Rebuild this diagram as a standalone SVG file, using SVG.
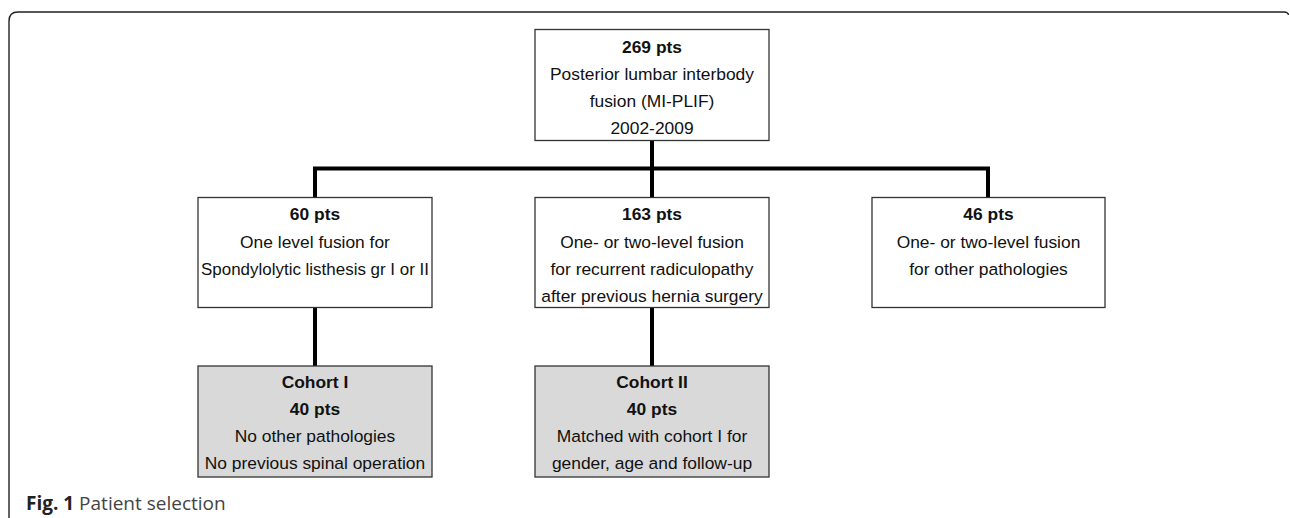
<svg xmlns="http://www.w3.org/2000/svg" width="1290" height="518" viewBox="0 0 1290 518">
<style>
.box{fill:#fff;stroke:#333;stroke-width:1.3}
.cohort{fill:#d9d9d9;stroke:#333;stroke-width:1.3}
.t{font-family:"Liberation Sans",Arial,sans-serif;font-size:17.4px;fill:#111;text-anchor:middle}
.b{font-weight:bold}
.conn{fill:none;stroke:#000;stroke-width:4}
.frame{fill:none;stroke:#222;stroke-width:1.4}
.cap{font-family:"Open Sans",sans-serif;font-size:19px}
</style>
<rect x="0" y="0" width="1290" height="518" fill="#fff"/>
<path class="frame" d="M9 518 V21 Q9 12 18 12 H1284 Q1288 12 1288.5 15"/>
<g id="connectors">
<path class="conn" d="M652 141 V168.5"/>
<path class="conn" d="M315 197.5 V168.5 H988 V197.5"/>
<path class="conn" d="M652 168.5 V197.5"/>
<path class="conn" d="M315 307.5 V366"/>
<path class="conn" d="M652 307.5 V366"/>
</g>
<g id="n269">
<rect class="box" x="535" y="29.5" width="234" height="111"/>
<text class="t b" x="652" y="53">269 pts</text>
<text class="t" x="652" y="80">Posterior lumbar interbody</text>
<text class="t" x="652" y="107">fusion (MI-PLIF)</text>
<text class="t" x="652" y="134">2002-2009</text>
</g>
<g id="n60">
<rect class="box" x="198" y="197.5" width="234" height="110"/>
<text class="t b" x="315" y="220">60 pts</text>
<text class="t" x="315" y="248">One level fusion for</text>
<text class="t" x="315" y="275" textLength="228" lengthAdjust="spacingAndGlyphs">Spondylolytic listhesis gr I or II</text>
</g>
<g id="n163">
<rect class="box" x="535" y="197.5" width="234" height="110"/>
<text class="t b" x="652" y="220">163 pts</text>
<text class="t" x="652" y="248">One- or two-level fusion</text>
<text class="t" x="652" y="275">for recurrent radiculopathy</text>
<text class="t" x="652" y="302">after previous hernia surgery</text>
</g>
<g id="n46">
<rect class="box" x="872" y="197.5" width="233" height="110"/>
<text class="t b" x="988.5" y="220">46 pts</text>
<text class="t" x="988.5" y="248">One- or two-level fusion</text>
<text class="t" x="988.5" y="275">for other pathologies</text>
</g>
<g id="cohort1">
<rect class="cohort" x="198" y="366" width="234" height="111"/>
<text class="t b" x="315" y="388">Cohort I</text>
<text class="t b" x="315" y="415">40 pts</text>
<text class="t" x="315" y="442">No other pathologies</text>
<text class="t" x="315" y="469">No previous spinal operation</text>
</g>
<g id="cohort2">
<rect class="cohort" x="535" y="366" width="234" height="111"/>
<text class="t b" x="652" y="388">Cohort II</text>
<text class="t b" x="652" y="415">40 pts</text>
<text class="t" x="652" y="442">Matched with cohort I for</text>
<text class="t" x="652" y="469">gender, age and follow-up</text>
</g>
<text class="cap" x="26" y="510"><tspan font-weight="bold" fill="#222">Fig. 1</tspan><tspan fill="#444"> Patient selection</tspan></text>
</svg>
